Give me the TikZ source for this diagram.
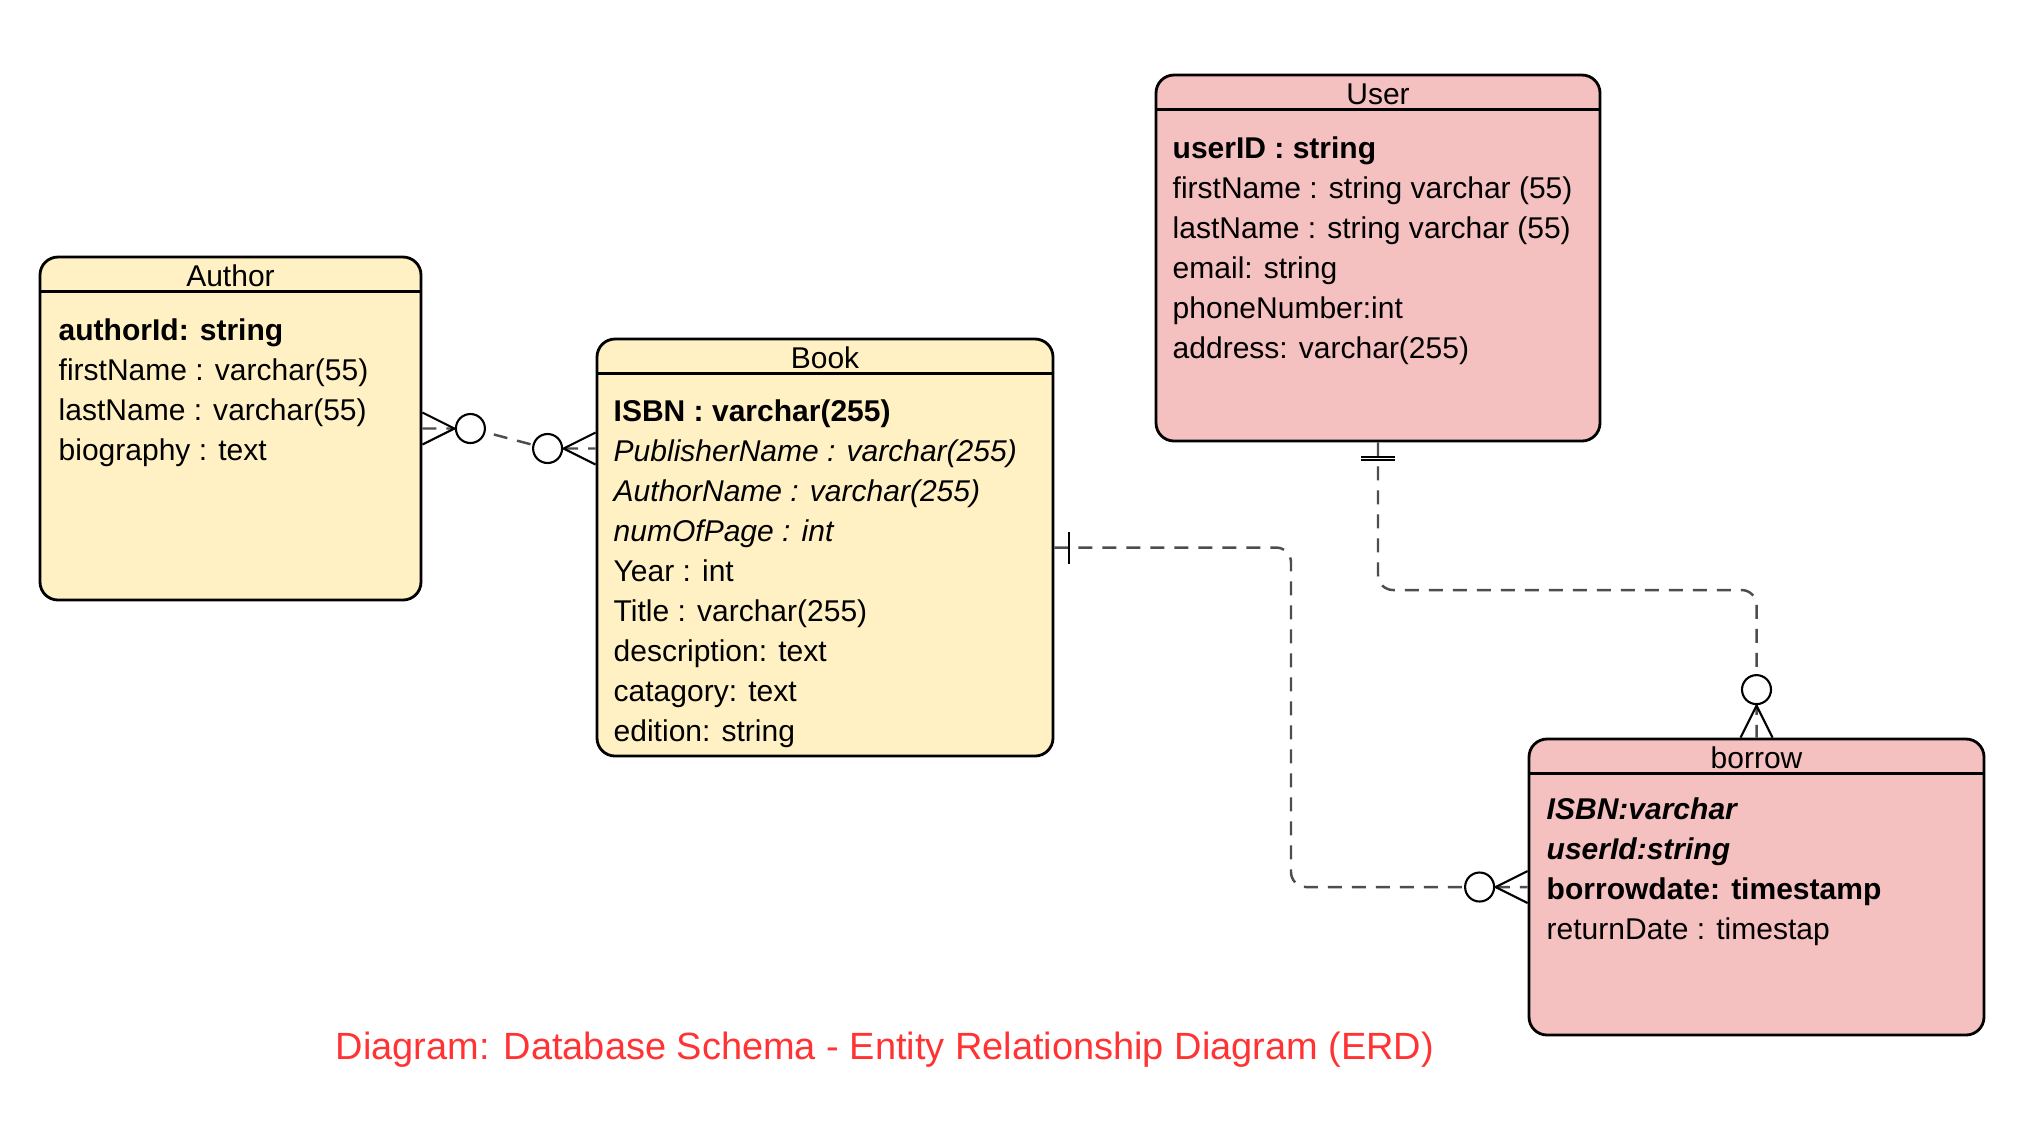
\documentclass[tikz,border=0pt]{standalone}
\usepackage{fontspec}
\setmainfont{Liberation Sans}
\usepackage{xcolor}
\usetikzlibrary{fit,calc,decorations.markings}

\definecolor{tableyellow}{HTML}{FFF1C4}
\definecolor{tablepink}{HTML}{F4C0C0}
\definecolor{linkgray}{HTML}{4D4D4D}
\definecolor{captionred}{HTML}{FF3333}

% ER marks, box edge at x=0, line coming from negative x
\newcommand{\erZeroMany}{%
  \draw[solid, sharp corners, draw=black, line width=0.6pt, fill=white] (-0.48,0) circle (0.145);
  \draw[solid, sharp corners, draw=black, line width=0.6pt] (0,0.16) -- (-0.32,0) -- (0,-0.16);}
\newcommand{\erOne}{%
  \draw[solid, draw=black, line width=0.6pt] (-0.15,-0.16) -- (-0.15,0.16);}
\newcommand{\erOneOne}{%
  \draw[solid, draw=black, line width=0.6pt] (-0.15,-0.17) -- (-0.15,0.17) (-0.175,-0.17) -- (-0.175,0.17);}

\tikzset{
  entity/.style={draw, fill=#1, line width=0.8pt, rounded corners=0.18cm, inner sep=0pt},
  rowline/.style={line width=0.8pt},
  title/.style={anchor=base, inner sep=0pt, font=\fontsize{8.54}{10}\selectfont},
  attr/.style={anchor=base west, inner sep=0pt, font=\fontsize{8.54}{10}\selectfont},
  caption/.style={anchor=base, inner sep=0pt, text=captionred, font=\fontsize{10.8}{12}\selectfont},
  rel/.style={draw=linkgray, line width=0.7pt, dash pattern=on 0.14cm off 0.1cm, rounded corners=0.15cm},
  zmany start/.style={postaction={decorate, decoration={markings,
      mark=at position 0 with {\begin{scope}[xscale=-1]\erZeroMany\end{scope}}}}},
  zmany end/.style={postaction={decorate, decoration={markings,
      mark=at position 1 with {\erZeroMany}}}},
  one start/.style={postaction={decorate, decoration={markings,
      mark=at position 0 with {\begin{scope}[xscale=-1]\erOne\end{scope}}}}},
  oneone start/.style={postaction={decorate, decoration={markings,
      mark=at position 0 with {\begin{scope}[xscale=-1]\erOneOne\end{scope}}}}}
}

\begin{document}
\begin{tikzpicture}
    \useasboundingbox (0,0) rectangle (20.32,-11.42);

    % Author table
    \node[entity=tableyellow, fit={(0.40,-2.57) (4.21,-6.00)}] (author) {};
    \draw[rowline] ([yshift=-0.36cm]author.north west) -- ([yshift=-0.36cm]author.north east);
    \node[title] (author-title) at (2.305,-2.86) {Author};
    \node[attr] (author-id) at (0.58,-3.40) {\textbf{authorId: string}};
    \node[attr] (author-first) at (0.58,-3.80) {firstName : varchar(55)};
    \node[attr] (author-last) at (0.58,-4.20) {lastName : varchar(55)};
    \node[attr] (author-bio) at (0.58,-4.60) {biography : text};

    % Book table
    \node[entity=tableyellow, fit={(5.97,-3.39) (10.53,-7.56)}] (book) {};
    \draw[rowline] ([yshift=-0.36cm]book.north west) -- ([yshift=-0.36cm]book.north east);
    \node[title] (book-title) at (8.25,-3.68) {Book};
    \node[attr] (book-isbn) at (6.13,-4.21) {\textbf{ISBN : varchar(255)}};
    \node[attr] (book-publisher) at (6.13,-4.61) {\textit{PublisherName : varchar(255)}};
    \node[attr] (book-author) at (6.13,-5.01) {\textit{AuthorName : varchar(255)}};
    \node[attr] (book-pages) at (6.13,-5.41) {\textit{numOfPage : int}};
    \node[attr] (book-year) at (6.13,-5.81) {Year : int};
    \node[attr] (book-name) at (6.13,-6.21) {Title : varchar(255)};
    \node[attr] (book-desc) at (6.13,-6.61) {description: text};
    \node[attr] (book-cat) at (6.13,-7.01) {catagory: text};
    \node[attr] (book-edition) at (6.13,-7.41) {edition: string};

    % User table
    \node[entity=tablepink, fit={(11.56,-0.75) (16.00,-4.41)}] (user) {};
    \draw[rowline] ([yshift=-0.36cm]user.north west) -- ([yshift=-0.36cm]user.north east);
    \node[title] (user-title) at (13.78,-1.04) {User};
    \node[attr] (user-id) at (11.72,-1.58) {\textbf{userID : string}};
    \node[attr] (user-first) at (11.72,-1.98) {firstName : string varchar (55)};
    \node[attr] (user-last) at (11.72,-2.38) {lastName : string varchar (55)};
    \node[attr] (user-mail) at (11.72,-2.78) {email: string};
    \node[attr] (user-phone) at (11.72,-3.18) {phoneNumber:int};
    \node[attr] (user-address) at (11.72,-3.58) {address: varchar(255)};

    % borrow table
    \node[entity=tablepink, fit={(15.29,-7.39) (19.84,-10.35)}] (borrow) {};
    \draw[rowline] ([yshift=-0.36cm]borrow.north west) -- ([yshift=-0.36cm]borrow.north east);
    \node[title] (borrow-title) at (17.565,-7.68) {borrow};
    \node[attr] (borrow-isbn) at (15.46,-8.19) {\textbf{\textit{ISBN:varchar}}};
    \node[attr] (borrow-user) at (15.46,-8.59) {\textbf{\textit{userId:string}}};
    \node[attr] (borrow-date) at (15.46,-8.99) {\textbf{borrowdate: timestamp}};
    \node[attr] (borrow-return) at (15.46,-9.39) {returnDate : timestap};

    % Relationships
    \coordinate (book-in) at ([yshift=0.99cm]book.west);
    \draw[rel, zmany start, zmany end] (author.east) -- ++(0.49,0) -- ([xshift=-0.49cm]book-in) -- (book-in);
    \draw[rel, one start, zmany end] (book.east) -| ($(book.east)!0.5!(borrow.west)$) |- (borrow.west);
    \draw[rel, oneone start, zmany end] (user.south) |- ($(user.south)!0.5!(borrow.north)$) -| (borrow.north);

    % Caption
    \node[caption] (caption) at (8.85,-10.59) {Diagram: Database Schema - Entity Relationship Diagram (ERD)};
\end{tikzpicture}
\end{document}
